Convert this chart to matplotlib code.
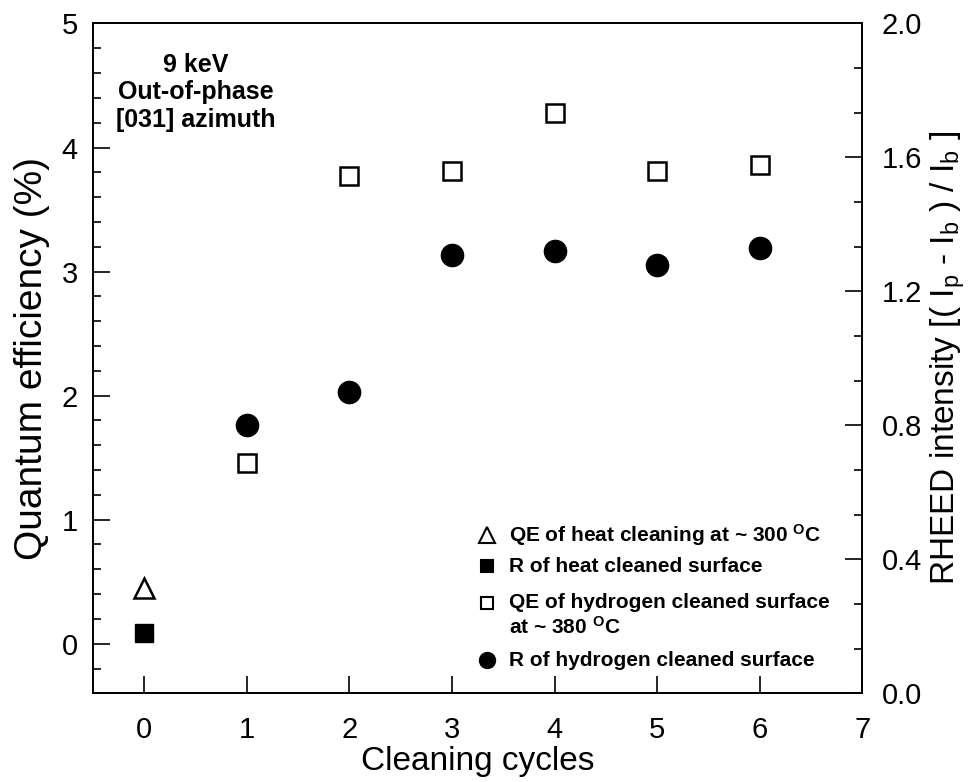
import matplotlib
matplotlib.use('Agg')
import matplotlib.pyplot as plt
from matplotlib.ticker import MultipleLocator, FormatStrFormatter

# data
cycles_heat = [0]
qe_heat = [0.45]            # QE of heat cleaning (left axis, %)
r_heat = [0.18]             # R of heat cleaned surface (right axis)

cycles_h = [1, 2, 3, 4, 5, 6]
qe_h = [1.46, 3.77, 3.81, 4.28, 3.81, 3.86]      # QE of hydrogen cleaned surface (%)
r_h = [0.80, 0.90, 1.31, 1.32, 1.28, 1.33]       # R of hydrogen cleaned surface

plt.rcParams['font.family'] = ['Liberation Sans', 'DejaVu Sans']
plt.rcParams['mathtext.fontset'] = 'custom'
plt.rcParams['mathtext.rm'] = 'Liberation Sans'
plt.rcParams['mathtext.it'] = 'Liberation Sans'
plt.rcParams['mathtext.bf'] = 'Liberation Sans:bold'

fig = plt.figure(figsize=(9.72, 7.82), dpi=100)
ax = fig.add_axes([0.0957, 0.1134, 0.7913, 0.8566])
ax2 = ax.twinx()

ax.set_xlim(-0.5, 7)
ax.set_ylim(-0.4, 5)
ax2.set_ylim(0, 2.0)

# markers
ax.plot(cycles_heat, qe_heat, ls='none', marker='^', ms=14.5, mfc='white',
        mec='black', mew=1.8)
ax.plot(cycles_h, qe_h, ls='none', marker='s', ms=13.5, mfc='white',
        mec='black', mew=1.8)
ax2.plot(cycles_heat, r_heat, ls='none', marker='s', ms=13.5, mfc='black',
         mec='black')
ax2.plot(cycles_h, r_h, ls='none', marker='o', ms=16, mfc='black',
         mec='black')

# ticks
ax.xaxis.set_major_locator(MultipleLocator(1))
ax.yaxis.set_major_locator(MultipleLocator(1))
ax.yaxis.set_minor_locator(MultipleLocator(0.2))
ax2.yaxis.set_major_locator(MultipleLocator(0.4))
ax2.yaxis.set_minor_locator(MultipleLocator(0.4 / 3))
ax.tick_params(axis='x', which='both', direction='in', top=False,
               length=12, width=1.2, labelsize=21, pad=16)
ax.tick_params(axis='y', which='major', direction='in', right=False,
               length=12, width=1.2, labelsize=21, pad=11)
ax.tick_params(axis='y', which='minor', direction='in', right=False,
               length=6, width=1.2)
ax2.tick_params(axis='y', which='major', direction='in', length=12,
                width=1.2, labelsize=21, pad=14)
ax2.tick_params(axis='y', which='minor', direction='in', length=6, width=1.2)
ax2.yaxis.set_major_formatter(FormatStrFormatter('%.1f'))

for a in (ax, ax2):
    for s in a.spines.values():
        s.set_linewidth(1.3)

ax.set_xlabel('Cleaning cycles', fontsize=24, labelpad=2)
ax.set_ylabel('Quantum efficiency (%)', fontsize=28, labelpad=8)
ax2.set_ylabel(r'RHEED intensity [( I$_\mathrm{p}$ - I$_\mathrm{b}$ ) / I$_\mathrm{b}$ ]',
               fontsize=24, labelpad=5)

# annotation
ax.text(0.134, 0.897, '9 keV\nOut-of-phase\n[031] azimuth', transform=ax.transAxes,
        ha='center', va='center', fontsize=18, fontweight='bold')

# hand-placed legend
legend_rows = [
    ('^', 'white', 'QE of heat cleaning at ~ 300 $^\\mathbf{O}$C', 0.236, 11),
    ('s', 'black', 'R of heat cleaned surface', 0.190, 9),
    ('s', 'white', 'QE of hydrogen cleaned surface', 0.135, 9),
    (None, None, 'at ~ 380 $^\\mathbf{O}$C', 0.0995, 0),
    ('o', 'black', 'R of hydrogen cleaned surface', 0.0497, 11),
]
for mk, fc, label, yy, ms in legend_rows:
    if mk is not None:
        ax.plot([0.512], [yy], transform=ax.transAxes, ls='none', marker=mk,
                ms=ms, mfc=fc, mec='black', mew=1.5, clip_on=False)
    ax.text(0.541, yy, label, transform=ax.transAxes, ha='left',
            va='center', fontsize=15, fontweight='bold')

fig.savefig('out.png', dpi=100)
